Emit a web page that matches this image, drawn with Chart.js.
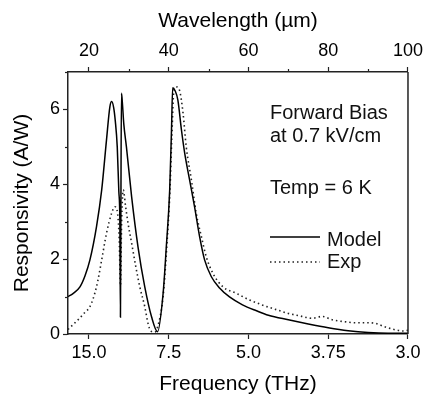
<!DOCTYPE html>
<html><head><meta charset="utf-8">
<script src="https://cdn.jsdelivr.net/npm/chart.js@4.4.1/dist/chart.umd.min.js"></script>
<style>html,body{margin:0;padding:0;background:#fff;}#wrap{width:428px;height:399px;}</style>
</head><body><div id="wrap"><canvas id="c" width="428" height="399"></canvas></div>
<script>
// Wavelength (um) and responsivity (A/W)
const modelWavelength = [14.75,16,17.75,19,20.25,21.9,23.2,24.4,25.25,25.7,26.2,26.6,27.1,27.5,27.75,27.9,28.0,28.15,28.3,28.75,29.4,30.7,32.3,34.0,35.7,37.2,38.6,39.4,40.25,40.7,41.0,41.6,42.3,43.2,44.0,45.25,46.5,47.75,49,50.7,52.75,55.25,58.5,62,65,70,75,80,85,90,95,100];
const modelResponsivity = [1.00,1.08,1.26,1.55,1.98,2.87,3.85,5.18,6.07,6.21,6.05,5.7,5.0,3.8,3.05,0.45,3.0,6.43,6.3,5.6,5.0,3.67,2.33,1.26,0.46,0.06,1.09,2.33,3.85,5.45,6.58,6.5,6.25,5.45,4.84,4.11,3.39,2.6,1.98,1.53,1.23,0.99,0.78,0.62,0.5,0.38,0.27,0.17,0.09,0.04,0.02,0.02];
const expWavelength = [14.75,16,17.75,19,20.25,21.9,23.2,24.4,25.7,26.5,27.2,27.6,27.9,28.2,28.6,29.2,29.8,30.7,31.75,32.75,34.0,34.8,35.5,36.5,37.5,38.6,39.5,40.3,40.8,41.3,42.0,42.75,43.6,44.4,45.7,46.9,48.2,49.4,51.1,53.6,56.9,60.25,63.6,67,70,73,76,78.5,81,84,87,90,92,94,96.5,99,100];
const expResponsivity = [0.12,0.25,0.43,0.58,0.73,1.26,1.98,2.69,3.23,3.4,3.2,2.5,1.3,3.0,3.85,3.4,2.96,2.43,1.8,1.26,0.73,0.29,0.08,0.05,0.3,1.0,2.3,3.8,5.3,6.5,6.6,6.5,5.9,5.0,4.11,3.23,2.6,2.07,1.62,1.26,1.09,0.91,0.77,0.65,0.55,0.48,0.42,0.47,0.38,0.33,0.3,0.3,0.28,0.2,0.12,0.08,0.1];

const seriesNames = ['Model','Exp'];
const bottomTickValues = [20,40,60,80,100];
const bottomTickLabels = ['15.0','7.5','5.0','3.75','3.0'];
const topTickValues = [20,30,40,50,60,70,80,90,100];
const topTickLabels = ['20','','40','','60','','80','','100'];
const yTickValues = [0,1,2,3,4,5,6,7];
const yTickLabels = ['0','','2','','4','','6',''];
const annotationLines = ['Forward Bias','at 0.7 kV/cm','Temp = 6 K'];

const FONT = "'Liberation Sans', Arial, Helvetica, sans-serif";
const AXIS = '#222';

function pts(xs, ys){ return xs.map((x,i)=>({x:x, y:ys[i]})); }

const extras = {
  id:'extras',
  afterDraw(chart){
    const ctx = chart.ctx, a = chart.chartArea;
    const x2 = chart.scales.x2, y = chart.scales.y;
    ctx.save();
    ctx.strokeStyle = AXIS; ctx.lineWidth = 1.2;
    topTickValues.forEach((v,i)=>{ if(topTickLabels[i]===''){ const px=Math.round(x2.getPixelForValue(v))+0.5; ctx.beginPath(); ctx.moveTo(px,a.top); ctx.lineTo(px,a.top-3); ctx.stroke(); }});
    yTickValues.forEach((v,i)=>{ if(yTickLabels[i]===''){ const py=Math.round(y.getPixelForValue(v))+0.5; ctx.beginPath(); ctx.moveTo(a.left,py); ctx.lineTo(a.left-3,py); ctx.stroke(); }});
    ctx.lineWidth = 1.5;
    ctx.beginPath(); ctx.moveTo(a.right, a.top); ctx.lineTo(a.right, a.bottom); ctx.stroke();
    ctx.fillStyle = '#111';
    ctx.font = '20px ' + FONT;
    ctx.textBaseline = 'alphabetic'; ctx.textAlign = 'left';
    ctx.fillText(annotationLines[0], 270, 119);
    ctx.fillText(annotationLines[1], 270, 142);
    ctx.fillText(annotationLines[2], 270, 194);
    const ds = chart.data.datasets;
    const rows = [{y:237, t:246},{y:262, t:268}];
    ds.forEach((d,i)=>{
      ctx.save();
      ctx.strokeStyle = d.borderColor; ctx.lineWidth = d.borderWidth;
      ctx.setLineDash(d.borderDash || []);
      ctx.beginPath(); ctx.moveTo(270, rows[i].y); ctx.lineTo(320, rows[i].y); ctx.stroke();
      ctx.restore();
      ctx.fillText(d.label, 327, rows[i].t);
    });
    ctx.restore();
  }
};

new Chart(document.getElementById('c'), {
  type:'line',
  data:{ datasets:[
    {label:seriesNames[0], data:pts(modelWavelength, modelResponsivity), borderColor:'#000', borderWidth:1.5, pointRadius:0, cubicInterpolationMode:'monotone', fill:false},
    {label:seriesNames[1], data:pts(expWavelength, expResponsivity), borderColor:'#222', borderWidth:1.6, borderDash:[1.5,3], pointRadius:0, cubicInterpolationMode:'monotone', fill:false}
  ]},
  options:{
    responsive:false, animation:false, devicePixelRatio:1,
    layout:{padding:{left:0, right:19, top:0, bottom:0}},
    plugins:{legend:{display:false}, tooltip:{enabled:false}},
    scales:{
      x:{ type:'linear', position:'bottom', min:14.75, max:100,
        afterBuildTicks(s){ s.ticks = bottomTickValues.map(v=>({value:v})); },
        afterFit(s){ s.height = 65; },
        ticks:{ callback:(v)=>{ const i=bottomTickValues.indexOf(v); return i>=0?bottomTickLabels[i]:''; }, font:{family:FONT,size:18}, color:'#000', padding:3, maxRotation:0, autoSkip:false },
        grid:{ drawOnChartArea:false, drawTicks:true, tickLength:5, tickColor:AXIS, tickWidth:1.2 },
        border:{ color:AXIS, width:1.5 },
        title:{ display:true, text:'Frequency (THz)', font:{family:FONT,size:21}, color:'#000', padding:{top:0,bottom:2} }
      },
      x2:{ type:'linear', position:'top', min:14.75, max:100,
        afterBuildTicks(s){ s.ticks = topTickValues.map(v=>({value:v})); },
        afterFit(s){ s.height = 72; },
        ticks:{ callback:(v)=>{ const i=topTickValues.indexOf(v); return i>=0?topTickLabels[i]:''; }, font:{family:FONT,size:18}, color:'#000', padding:5, maxRotation:0, autoSkip:false },
        grid:{ drawOnChartArea:false, drawTicks:true, tickLength:5, tickWidth:1.2,
          tickColor:(c)=>{ const i=topTickValues.indexOf(c.tick && c.tick.value); return (i>=0 && topTickLabels[i]!=='')?AXIS:'rgba(0,0,0,0)'; } },
        border:{ color:AXIS, width:1.5 },
        title:{ display:true, text:'Wavelength (\u00B5m)', font:{family:FONT,size:21}, color:'#000', padding:{top:9,bottom:0} }
      },
      y:{ type:'linear', position:'left', min:0, max:7,
        afterBuildTicks(s){ s.ticks = yTickValues.map(v=>({value:v})); },
        afterFit(s){ s.width = 68; },
        ticks:{ callback:(v)=>{ const i=yTickValues.indexOf(v); return i>=0?yTickLabels[i]:''; }, font:{family:FONT,size:18}, color:'#000', padding:3, autoSkip:false },
        grid:{ drawOnChartArea:false, drawTicks:true, tickLength:5, tickWidth:1.2,
          tickColor:(c)=>{ const i=yTickValues.indexOf(c.tick && c.tick.value); return (i>=0 && yTickLabels[i]!=='')?AXIS:'rgba(0,0,0,0)'; } },
        border:{ color:AXIS, width:1.5 },
        title:{ display:true, text:'Responsivity (A/W)', font:{family:FONT,size:21}, color:'#000', padding:{top:10,bottom:0} }
      }
    }
  },
  plugins:[extras]
});
</script></body></html>
